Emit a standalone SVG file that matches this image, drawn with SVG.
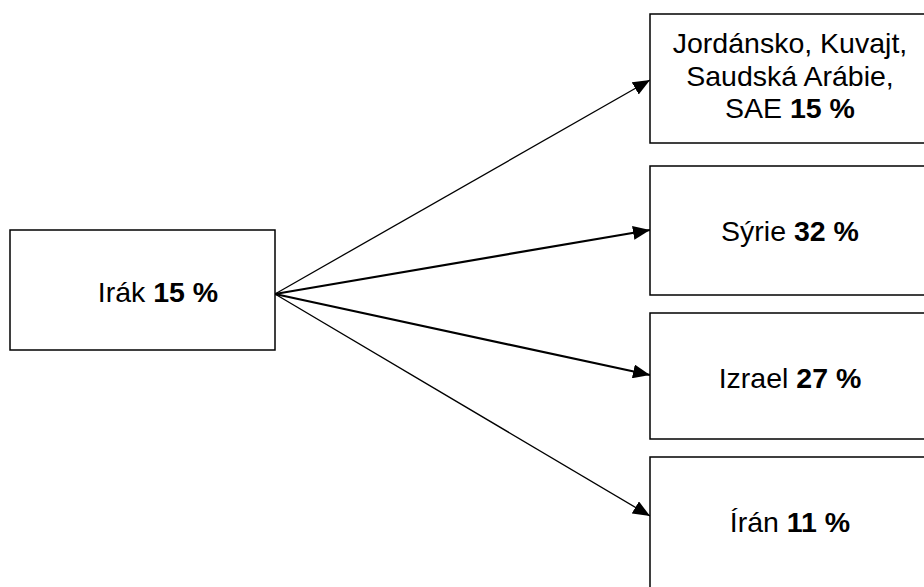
<svg xmlns="http://www.w3.org/2000/svg" width="924" height="587" viewBox="0 0 924 587">
<defs>
<style>
.box{fill:#fff;stroke:#000;stroke-width:1.5}
.t{font-family:"Liberation Sans",Arial,sans-serif;font-size:28.5px;fill:#000}
.t tspan.b{font-weight:bold}
.c1{stroke:#000;stroke-width:1.3;fill:none;marker-end:url(#ah)}
.c2{stroke:#000;stroke-width:2.2;fill:none;marker-end:url(#ah)}
</style>
<marker id="ah" markerUnits="userSpaceOnUse" markerWidth="17" markerHeight="14" refX="17" refY="7" orient="auto">
<path d="M0,0 L17,7 L0,14 Z" fill="#000"/>
</marker>
</defs>
<rect width="924" height="587" fill="#fff"/>
<g id="connectors">
<line class="c1" x1="275" y1="294" x2="650" y2="80"/>
<line class="c2" x1="275" y1="294" x2="650" y2="230"/>
<line class="c2" x1="275" y1="294" x2="650" y2="375"/>
<line class="c1" x1="275" y1="294" x2="650" y2="516"/>
</g>
<g id="irak">
<rect class="box" x="10" y="230" width="265" height="120"/>
<text class="t" x="158" y="302" text-anchor="middle">Irák <tspan class="b">15 %</tspan></text>
</g>
<g id="jordansko">
<rect class="box" x="650" y="14" width="290" height="129"/>
<text class="t" x="790" y="53" text-anchor="middle">Jordánsko, Kuvajt,</text>
<text class="t" x="790" y="86" text-anchor="middle">Saudská Arábie,</text>
<text class="t" x="790" y="118" text-anchor="middle">SAE <tspan class="b">15 %</tspan></text>
</g>
<g id="syrie">
<rect class="box" x="650" y="166" width="290" height="129"/>
<text class="t" x="790" y="241" text-anchor="middle">Sýrie <tspan class="b">32 %</tspan></text>
</g>
<g id="izrael">
<rect class="box" x="650" y="313" width="290" height="126"/>
<text class="t" x="790" y="388" text-anchor="middle">Izrael <tspan class="b">27 %</tspan></text>
</g>
<g id="iran">
<rect class="box" x="650" y="457" width="290" height="150"/>
<text class="t" x="790" y="532" text-anchor="middle">Írán <tspan class="b">11 %</tspan></text>
</g>
</svg>
